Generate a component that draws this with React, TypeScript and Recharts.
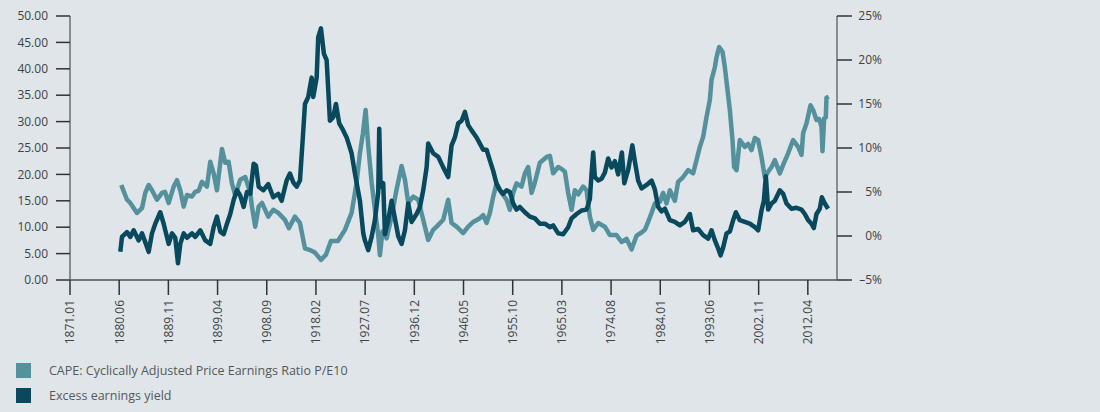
import React from 'react';
import { LineChart, Line, XAxis, YAxis } from 'recharts';

// CAPE series (left axis), dates
const capeDates = [
  1880.82, 1881.91, 1882.54, 1883.82, 1884.78, 1885.41, 1886.06, 1886.69, 1887.65, 1888.61,
  1889.18, 1889.89, 1890.85, 1891.48, 1892.11, 1892.76, 1893.39, 1894.35, 1894.98, 1895.63,
  1896.26, 1897.22, 1897.85, 1898.5, 1899.13, 1900.09, 1900.72, 1901.37, 1902.0, 1902.64,
  1903.59, 1904.55, 1905.51, 1905.83, 1906.46, 1907.12, 1907.75, 1908.95, 1909.91, 1910.87,
  1912.15, 1912.91, 1914.06, 1915.02, 1915.98, 1917.12, 1917.89, 1919.04, 1920.0, 1920.95,
  1922.29, 1923.63, 1924.91, 1925.87, 1926.5, 1927.08, 1927.59, 1928.09, 1928.74, 1929.37,
  1930.01, 1930.33, 1930.81, 1931.61, 1932.57, 1933.53, 1934.48, 1935.12, 1935.75, 1936.7,
  1937.66, 1938.62, 1939.57, 1940.53, 1941.18, 1942.45, 1943.4, 1944.05, 1945.01, 1946.27,
  1947.23, 1948.19, 1949.47, 1950.1, 1950.75, 1951.38, 1952.02, 1952.67, 1953.62, 1954.58,
  1955.21, 1955.84, 1956.49, 1957.45, 1958.08, 1958.71, 1959.37, 1960.0, 1960.95, 1962.24,
  1962.87, 1963.5, 1964.46, 1965.16, 1965.74, 1966.37, 1967.02, 1967.65, 1968.28, 1969.24,
  1969.89, 1970.52, 1971.16, 1972.11, 1973.39, 1974.35, 1975.63, 1976.59, 1977.54, 1978.5,
  1979.46, 1980.42, 1981.05, 1981.68, 1982.33, 1982.96, 1983.92, 1984.55, 1985.2, 1985.83,
  1986.79, 1987.42, 1988.38, 1989.34, 1990.29, 1990.94, 1991.57, 1992.21, 1992.86, 1993.49,
  1993.81, 1994.45, 1994.77, 1995.27, 1995.92, 1996.36, 1996.8, 1997.32, 1997.83, 1998.14,
  1998.6, 1999.23, 2000.19, 2000.82, 2001.47, 2002.1, 2002.74, 2003.38, 2004.01, 2004.65,
  2005.3, 2005.93, 2006.89, 2007.52, 2008.48, 2009.43, 2010.39, 2011.04, 2011.35, 2012.0,
  2012.76, 2013.26, 2013.91, 2014.41, 2014.87, 2015.06, 2015.37, 2015.69, 2015.82, 2016.26,
];
const capeValues = [
  18.0, 15.2, 14.6, 12.7, 13.6, 16.5, 18.0, 17.0, 15.2, 16.5,
  16.7, 14.6, 17.7, 18.9, 17.0, 13.9, 16.1, 15.8, 16.7, 16.9,
  18.6, 17.7, 22.4, 20.2, 17.0, 24.8, 22.2, 22.4, 18.3, 16.0,
  19.0, 19.5, 16.5, 13.9, 10.1, 13.9, 14.6, 12.0, 13.3, 12.7,
  11.4, 9.8, 12.0, 10.8, 6.0, 5.6, 5.2, 3.8, 4.8, 7.4,
  7.4, 9.5, 12.7, 18.5, 24.0, 27.8, 32.2, 25.5, 18.5, 13.3,
  8.5, 4.7, 9.2, 7.9, 12.0, 17.2, 21.6, 19.0, 14.6, 15.8,
  15.2, 11.4, 7.6, 9.5, 10.1, 11.4, 15.2, 10.8, 10.1, 8.9,
  10.1, 11.0, 11.7, 12.3, 10.8, 12.7, 15.8, 18.3, 16.5, 15.2,
  13.3, 16.5, 18.3, 17.7, 20.2, 21.4, 16.5, 18.5, 22.2, 23.3,
  23.5, 20.2, 21.4, 21.0, 20.5, 16.5, 13.3, 17.0, 16.2, 17.7,
  17.0, 12.0, 9.5, 10.8, 10.1, 8.5, 8.5, 7.2, 7.8, 5.8,
  8.4, 9.0, 9.5, 11.0, 12.7, 14.5, 14.8, 16.5, 14.5, 17.0,
  15.0, 18.6, 19.5, 20.8, 20.2, 22.7, 25.2, 27.1, 30.9, 34.1,
  37.9, 40.3, 42.2, 44.1, 43.2, 40.3, 36.6, 32.2, 26.5, 21.4,
  20.8, 26.5, 25.2, 25.8, 24.6, 26.9, 26.5, 23.3, 19.5, 20.5,
  21.4, 22.7, 20.2, 21.8, 24.0, 26.5, 25.2, 23.7, 27.8, 29.7,
  33.1, 32.2, 30.3, 30.5, 29.0, 24.4, 30.6, 30.8, 34.5, 34.7,
];

// Excess earnings yield (right axis, %)
const yieldDates = [
  1880.63, 1880.95, 1881.91, 1882.54, 1883.19, 1884.15, 1884.78, 1885.41, 1886.06, 1886.69,
  1887.33, 1888.28, 1888.93, 1889.89, 1890.52, 1891.15, 1891.67, 1892.11, 1892.76, 1893.39,
  1894.35, 1894.98, 1895.94, 1896.9, 1897.85, 1898.5, 1899.13, 1899.77, 1900.42, 1901.05,
  1901.68, 1902.33, 1902.96, 1903.59, 1904.24, 1904.88, 1905.51, 1906.16, 1906.6, 1907.12,
  1908.0, 1908.95, 1909.91, 1910.87, 1911.52, 1912.47, 1913.11, 1913.74, 1914.39, 1915.02,
  1915.54, 1915.98, 1916.61, 1917.26, 1917.57, 1918.22, 1918.52, 1919.04, 1919.61, 1920.13,
  1920.76, 1921.39, 1921.91, 1922.54, 1923.31, 1923.96, 1924.91, 1925.55, 1926.5, 1927.14,
  1927.46, 1928.09, 1928.74, 1929.37, 1930.01, 1930.2, 1930.46, 1930.96, 1931.29, 1931.92,
  1932.57, 1933.2, 1933.83, 1934.48, 1935.12, 1935.75, 1936.4, 1937.35, 1937.99, 1938.62,
  1939.27, 1939.57, 1940.53, 1941.49, 1942.45, 1943.4, 1944.05, 1944.68, 1945.32, 1945.97,
  1946.6, 1947.23, 1947.88, 1948.84, 1949.47, 1950.1, 1950.75, 1951.38, 1952.02, 1952.67,
  1953.3, 1953.93, 1954.58, 1955.21, 1955.84, 1956.49, 1957.12, 1958.08, 1959.04, 1960.0,
  1960.95, 1961.91, 1962.87, 1963.5, 1964.46, 1965.41, 1966.37, 1967.02, 1967.98, 1968.93,
  1969.89, 1970.52, 1970.85, 1971.16, 1971.48, 1972.11, 1972.76, 1973.39, 1974.03, 1974.67,
  1975.31, 1975.94, 1976.65, 1977.12, 1977.85, 1978.66, 1979.13, 1979.77, 1980.42, 1981.38,
  1982.33, 1982.96, 1983.6, 1984.25, 1984.88, 1985.83, 1986.79, 1987.75, 1988.7, 1989.66,
  1990.29, 1991.25, 1992.21, 1993.17, 1993.81, 1994.45, 1995.08, 1995.54, 1996.04, 1996.69,
  1997.32, 1997.95, 1998.47, 1999.23, 2000.19, 2001.14, 2002.1, 2002.74, 2003.38, 2003.83,
  2004.21, 2004.65, 2005.3, 2005.93, 2006.89, 2007.52, 2008.17, 2009.12, 2010.08, 2011.04,
  2011.67, 2012.31, 2012.95, 2013.39, 2013.91, 2014.54, 2014.93, 2015.5, 2016.13,
];
const yieldValues = [
  -1.8, -0.1, 0.45, -0.1, 0.65, -0.5, 0.3, -0.7, -1.8, 0.3,
  1.4, 2.7, 1.4, -0.9, 0.3, -0.2, -3.1, -0.9, 0.3, -0.2,
  0.3, -0.1, 0.65, -0.5, -0.9, 1.0, 2.2, 0.5, 0.2, 1.4,
  2.5, 4.1, 5.2, 4.6, 3.3, 5.0, 4.8, 8.2, 8.0, 5.6,
  5.2, 5.9, 4.4, 4.8, 4.0, 6.3, 7.1, 6.1, 5.6, 6.3,
  10.9, 15.0, 15.8, 18.0, 15.8, 18.0, 22.6, 23.6, 20.7, 20.0,
  13.1, 13.5, 15.0, 12.8, 12.0, 11.2, 9.4, 7.1, 4.0, 0.3,
  -0.5, -1.6, -0.1, 1.8, 5.0, 12.2, 5.6, 6.0, 0.2, 1.8,
  4.0, 2.0, 0.0, -0.9, 0.65, 3.7, 1.6, 2.5, 3.3, 5.2,
  7.8, 10.5, 9.4, 9.0, 7.8, 6.7, 10.3, 11.2, 12.8, 13.1,
  14.1, 12.6, 12.0, 11.2, 10.5, 9.8, 9.8, 8.6, 7.4, 5.9,
  5.2, 4.8, 5.2, 5.0, 3.7, 3.0, 3.3, 2.7, 2.2, 2.0,
  1.4, 1.4, 1.0, 1.2, 0.3, 0.2, 1.0, 2.0, 2.5, 2.9,
  3.0, 4.2, 7.1, 9.5, 6.7, 6.3, 6.5, 7.2, 8.8, 7.8,
  8.5, 7.0, 9.5, 6.0, 7.5, 10.3, 8.5, 6.3, 5.4, 5.8,
  6.3, 5.3, 3.3, 2.8, 3.1, 1.8, 1.6, 1.2, 1.6, 2.5,
  0.65, 0.8, 0.1, -0.3, 0.65, -0.5, -1.4, -2.2, -1.3, 0.3,
  0.5, 1.8, 2.7, 1.8, 1.6, 1.4, 1.0, 0.65, 2.9, 4.0,
  6.8, 3.0, 3.7, 4.0, 5.2, 4.8, 3.7, 3.1, 3.2, 3.0,
  2.5, 1.8, 1.4, 0.9, 2.5, 3.1, 4.4, 3.7, 3.1,
];

const leftTicks = [0, 5, 10, 15, 20, 25, 30, 35, 40, 45, 50];
const rightTicks = [-5, 0, 5, 10, 15, 20, 25];
// one label every 113 months, starting January 1871
const monthStep = 113;
const xTicks = Array.from({ length: 16 }, (_, k) => 1871 + (k * monthStep) / 12);

const capeData = capeDates.map((d, i) => ({ date: d, cape: capeValues[i] }));
const yieldData = yieldDates.map((d, i) => ({ date: d, eey: yieldValues[i] }));

const CAPE_COLOR = '#55909d';
const EEY_COLOR = '#08495d';
const TEXT = '#3e4347';
const FONT = '"Open Sans", sans-serif';

const formatMonth = (v: number) => {
  const m = Math.round((v - 1871) * 12);
  const year = 1871 + Math.floor(m / 12);
  const month = (m % 12) + 1;
  return `${year}.${month < 10 ? '0' + month : month}`;
};

const XTick = (props: any) => {
  const { x, y, payload } = props;
  return (
    <g transform={`translate(${x},${y})`}>
      <text transform="rotate(-90)" x={-3} y={0} dy="0.36em" textAnchor="end" fontSize={12} fill={TEXT} fontFamily={FONT}>
        {formatMonth(payload.value)}
      </text>
    </g>
  );
};

const RightTick = (props: any) => {
  const { x, y, payload } = props;
  const v = payload.value;
  return (
    <text x={x + 28} y={y} dy="0.36em" textAnchor="end" fontSize={12} fill={TEXT} fontFamily={FONT}>
      {v < 0 ? `–${Math.abs(v)}%` : `${v}%`}
    </text>
  );
};

const legendItems = [
  { label: 'CAPE: Cyclically Adjusted Price Earnings Ratio P/E10', color: CAPE_COLOR },
  { label: 'Excess earnings yield', color: EEY_COLOR },
];

export default function App() {
  return (
    <div style={{ position: 'fixed', left: 0, top: 0, width: 1100, height: 412, background: '#dfe5e8', fontFamily: FONT }}>
      <LineChart width={1100} height={350} margin={{ top: 16, right: 203, left: 0, bottom: 0 }}>
        <XAxis
          xAxisId="t"
          type="number"
          dataKey="date"
          domain={[1871, 1871 + 1762 / 12]}
          ticks={xTicks}
          interval={0}
          height={70}
          tick={<XTick />}
          tickSize={15}
          stroke="#4a4f53"
          strokeWidth={1.5}
          tickLine={{ stroke: '#2f3336' }}
          allowDataOverflow
        />
        <YAxis
          yAxisId="left"
          domain={[0, 50]}
          ticks={leftTicks}
          width={70}
          tickSize={14}
          tickMargin={8}
          tickFormatter={(v: number) => v.toFixed(2)}
          tick={{ fontSize: 12, fill: TEXT, fontFamily: FONT }}
          stroke="#6a6f73"
          strokeWidth={1.5}
          tickLine={{ stroke: '#2f3336' }}
        />
        <YAxis
          yAxisId="right"
          orientation="right"
          domain={[-5, 25]}
          ticks={rightTicks}
          width={60}
          tickSize={15}
          tick={<RightTick />}
          stroke="#6a6f73"
          strokeWidth={1.5}
          tickLine={{ stroke: '#2f3336' }}
        />
        <Line
          data={capeData}
          xAxisId="t"
          yAxisId="left"
          dataKey="cape"
          type="linear"
          stroke={CAPE_COLOR}
          strokeWidth={4.5}
          strokeLinejoin="round"
          dot={false}
          isAnimationActive={false}
        />
        <Line
          data={yieldData}
          xAxisId="t"
          yAxisId="right"
          dataKey="eey"
          type="linear"
          stroke={EEY_COLOR}
          strokeWidth={4.5}
          strokeLinejoin="round"
          dot={false}
          isAnimationActive={false}
        />
      </LineChart>
      {legendItems.map((item, i) => (
        <div key={item.label} style={{ position: 'absolute', left: 16, top: 363 + i * 25, height: 15, display: 'flex', alignItems: 'center' }}>
          <span style={{ width: 15, height: 15, background: item.color, display: 'inline-block' }} />
          <span style={{ marginLeft: 18, fontSize: 12.5, color: '#55595c', whiteSpace: 'nowrap' }}>{item.label}</span>
        </div>
      ))}
    </div>
  );
}
